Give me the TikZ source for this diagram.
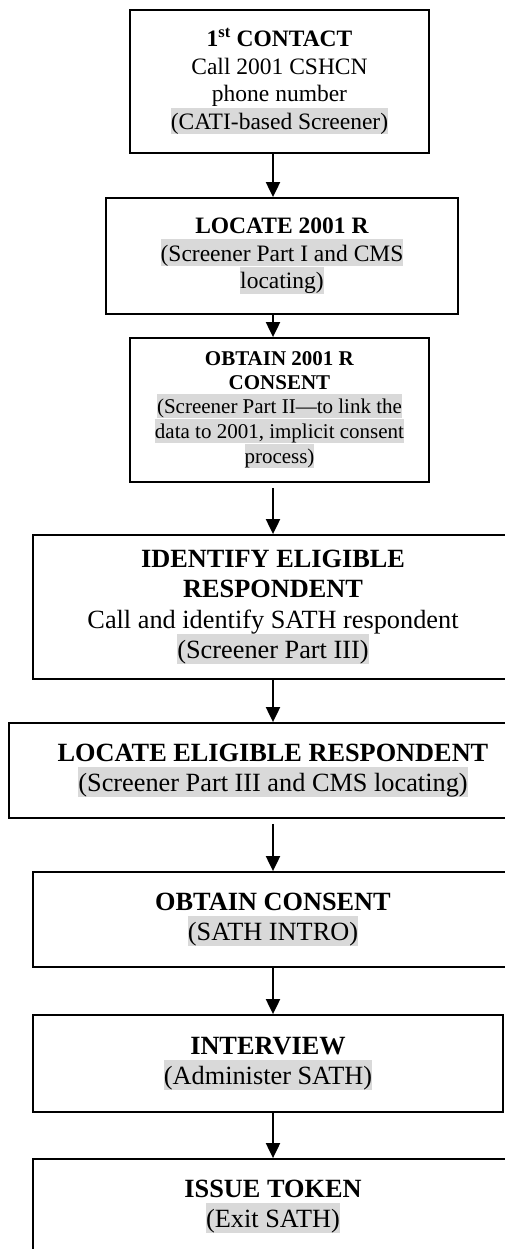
\documentclass[tikz,border=0pt]{standalone}
\usepackage{fontspec}
\setmainfont{Liberation Serif}
\usetikzlibrary{arrows.meta}
\definecolor{hlgray}{HTML}{D9D9D9}
\newcommand{\graybg}[1]{{\setlength{\fboxsep}{0pt}\colorbox{hlgray}{\rule[-0.2em]{0pt}{1.13em}#1}}}

\begin{document}
\begin{tikzpicture}[
    x=1pt, y=-1pt,
    stepbox/.style={draw, line width=1.8pt, align=center, inner sep=0pt},
    midtext/.style={font=\fontsize{23.5}{27.5}\selectfont},
    smalltext/.style={font=\fontsize{21}{24}\selectfont},
    bigtext/.style={font=\fontsize{26.3}{30.5}\selectfont},
    arr/.style={-{Triangle[length=15pt, width=14pt]}, line width=2pt},
]
\clip (0,0) rectangle (505,1249);

\node[stepbox, midtext, minimum width=299pt, minimum height=143pt] (contact) at (279.5,81.5)
    {\textbf{1\textsuperscript{st} CONTACT}\\Call 2001 CSHCN\\phone number\\\graybg{(CATI-based Screener)}};
\node[stepbox, midtext, minimum width=352pt, minimum height=116pt] (locate2001) at (282,256)
    {\textbf{LOCATE 2001 R}\\\graybg{(Screener Part I and CMS}\\\graybg{locating)}};
\node[stepbox, smalltext, minimum width=299pt, minimum height=144pt] (consent2001) at (279.5,410)
    {\textbf{OBTAIN 2001 R}\\\textbf{CONSENT}\\\graybg{(Screener Part II—to link the}\\\graybg{data to 2001, implicit consent}\\\graybg{process)}};
\node[stepbox, bigtext, minimum width=480pt, minimum height=144pt] (identify) at (273,607)
    {\textbf{IDENTIFY ELIGIBLE}\\\textbf{RESPONDENT}\\Call and identify SATH respondent\\\graybg{(Screener Part III)}};
\node[stepbox, bigtext, minimum width=528pt, minimum height=95pt] (locate) at (273,770.5)
    {\textbf{LOCATE ELIGIBLE RESPONDENT}\\\graybg{(Screener Part III and CMS locating)}};
\node[stepbox, bigtext, minimum width=480pt, minimum height=95pt] (consent) at (273,919.5)
    {\textbf{OBTAIN CONSENT}\\\graybg{(SATH INTRO)}};
\node[stepbox, bigtext, minimum width=470pt, minimum height=97pt] (interview) at (268,1063.5)
    {\textbf{INTERVIEW}\\\graybg{(Administer SATH)}};
\node[stepbox, bigtext, minimum width=480pt, minimum height=95pt] (token) at (273,1206.5)
    {\textbf{ISSUE TOKEN}\\\graybg{(Exit SATH)}};

% arrows run down one common line
\coordinate (ax) at (273,0);
\foreach \a/\b/\g in {contact/locate2001/0, locate2001/consent2001/0, consent2001/identify/5,
    identify/locate/0, locate/consent/5, consent/interview/0, interview/token/0} {
    \draw[arr, shorten <=\g pt] (\a.south -| ax) -- (\b.north -| ax);
}

\end{tikzpicture}
\end{document}
